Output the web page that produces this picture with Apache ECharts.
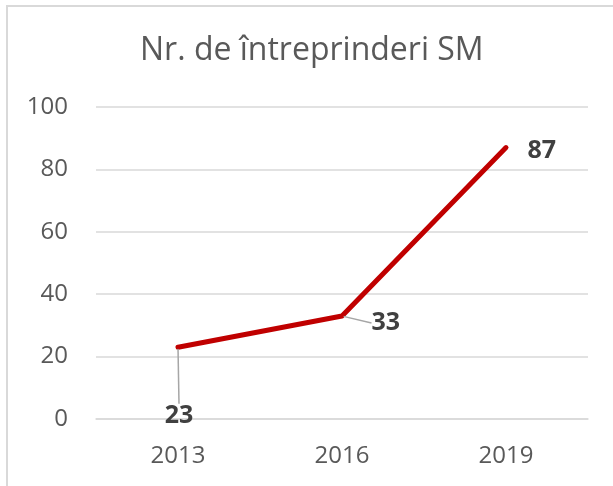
<!DOCTYPE html>
<html>
<head>
<meta charset="utf-8">
<script src="https://cdn.jsdelivr.net/npm/echarts@6/dist/echarts.min.js"></script>
<style>
  html, body { margin: 0; padding: 0; background: #fff; }
  #chart { width: 613px; height: 486px; }
</style>
</head>
<body>
<div id="chart"></div>
<script>
const years = ['2013', '2016', '2019']
const firms = [23, 33, 87]
const yTicks = { min: 0, max: 100, interval: 20 }

const font = '"Open Sans", Lato, sans-serif'
const chart = echarts.init(document.getElementById('chart'), null, { renderer: 'canvas' })

// where each value label goes relative to its point
const labelSpots = [
  { position: 'bottom', dx: 1, dy: 55, line: true },
  { position: 'right', dx: 28, dy: 7, line: true },
  { position: 'right', dx: 20, dy: 3, line: false }
]

chart.setOption({
  animation: false,
  title: {
    text: 'Nr. de întreprinderi SM',
    left: 135,
    top: 30,
    textStyle: { fontFamily: font, fontSize: 32, fontWeight: 'normal', color: '#595959' }
  },
  graphic: [{
    type: 'rect',
    shape: { x: 7, y: 6, width: 700, height: 600 },
    style: { fill: 'none', stroke: '#d9d9d9', lineWidth: 2 },
    silent: true
  }],
  grid: { left: 96, right: 25, top: 107, bottom: 67 },
  xAxis: {
    type: 'category',
    data: years,
    boundaryGap: true,
    axisLine: { lineStyle: { color: '#d9d9d9', width: 1.5 } },
    axisTick: { show: false },
    axisLabel: { fontFamily: font, fontSize: 24, color: '#595959', margin: 25 }
  },
  yAxis: {
    type: 'value',
    ...yTicks,
    axisLine: { show: false },
    axisTick: { show: false },
    axisLabel: { fontFamily: font, fontSize: 24, color: '#595959', margin: 28 },
    splitLine: { lineStyle: { color: '#d9d9d9', width: 1.5 } }
  },
  series: [{
    type: 'line',
    data: firms.map((v, i) => ({
      value: v,
      label: { position: labelSpots[i].position, distance: 0 },
      labelLine: { show: labelSpots[i].line }
    })),
    symbol: 'circle',
    symbolSize: 3,
    showSymbol: true,
    itemStyle: { color: '#c00000' },
    lineStyle: { color: '#c00000', width: 5, cap: 'round', join: 'round' },
    label: {
      show: true,
      fontFamily: font,
      fontSize: 25,
      fontWeight: 'bold',
      color: '#404040'
    },
    labelLine: { show: true, lineStyle: { color: '#a6a6a6', width: 1.5 } },
    labelLayout: (p) => ({ dx: labelSpots[p.dataIndex].dx, dy: labelSpots[p.dataIndex].dy })
  }]
})
</script>
</body>
</html>
